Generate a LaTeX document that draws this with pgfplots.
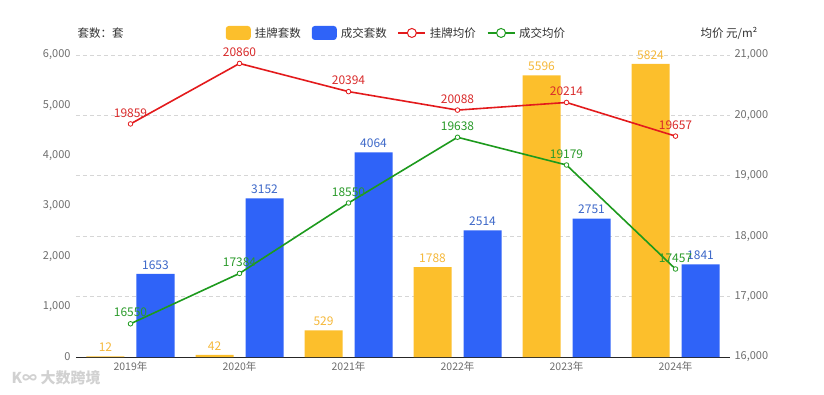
\documentclass[border=0pt]{standalone}
\usepackage{pgfplots}
\pgfplotsset{compat=1.18}
\usepackage{fontspec}
\setmainfont{Noto Sans CJK SC}
\definecolor{cy}{HTML}{FCBF2C}
\definecolor{cb}{HTML}{2F63F8}
\definecolor{cr}{HTML}{E31A1C}
\definecolor{cg}{HTML}{1D9A1D}
\definecolor{lb}{HTML}{3C67C8}
\definecolor{ly}{HTML}{F5B83A}
\definecolor{lr}{HTML}{D92B2B}
\definecolor{lg}{HTML}{2A9A2A}
\definecolor{tk}{HTML}{6E6E6E}
\definecolor{gr}{HTML}{D6D6D6}
\newcommand\fs[1]{\fontsize{#1}{#1}\selectfont}
\begin{document}
\begin{tikzpicture}
\path[use as bounding box] (-76pt,-37pt) rectangle (748pt,357pt);
\begin{axis}[
  width=654pt, height=302pt, scale only axis, clip=false,
  xmin=-0.5, xmax=5.5, ymin=0, ymax=6000,
  axis x line=bottom, axis y line=left,
  x axis line style={-, black!85, line width=0.8pt},
  y axis line style={draw=none},
  major tick length=0pt,
  xtick={0,...,5},
  xticklabels={2019年,2020年,2021年,2022年,2023年,2024年},
  xticklabel style={tk, font=\fs{10.5}, yshift=-1pt},
  ytick={0,1000,...,6000},
  scaled y ticks=false,
  yticklabel style={tk, font=\fs{11}, xshift=-2pt},
  /pgf/number format/assume math mode=true,
  /pgf/number format/1000 sep={,},
  extra y ticks={1200,2400,3600,4800,6000},
  extra y tick labels={},
  extra y tick style={grid=major, major grid style={gr, line width=0.7pt, dash pattern=on 4pt off 3pt}},
  ybar, bar width=38pt,
  nodes near coords,
  nodes near coords style={font=\fs{12}, /pgf/number format/assume math mode=true, /pgf/number format/1000 sep={}},
]
\addplot[fill=cy, draw=none, bar shift=-25pt, every node near coord/.append style={ly, yshift=1pt}]
  coordinates {(0,12) (1,42) (2,529) (3,1788) (4,5596) (5,5824)};
\addplot[fill=cb, draw=none, bar shift=25pt, every node near coord/.append style={lb, yshift=1pt}]
  coordinates {(0,1653) (1,3152) (2,4064) (3,2514) (4,2751) (5,1841)};
\end{axis}
\begin{axis}[
  width=654pt, height=302pt, scale only axis, clip=false,
  xmin=-0.5, xmax=5.5, ymin=16000, ymax=21000,
  axis x line=none, axis y line*=right,
  y axis line style={draw=none},
  major tick length=0pt,
  ytick={16000,17000,...,21000},
  scaled y ticks=false,
  yticklabel style={tk, font=\fs{11}, xshift=1pt},
  /pgf/number format/assume math mode=true,
  /pgf/number format/1000 sep={,},
  legend columns=4,
  legend style={at={(0.49,1.073)}, anchor=center, draw=none, fill=none,
    font=\fs{11.5}, text=black!80, inner sep=0pt,
    /tikz/every odd column/.append style={column sep=2pt},
    /tikz/every even column/.append style={column sep=9pt}},
  nodes near coords,
  nodes near coords style={font=\fs{12}, /pgf/number format/assume math mode=true, /pgf/number format/1000 sep={}},
]
\addlegendimage{fill=cy, draw=none, legend image code/.code={\fill[rounded corners=3pt] (0pt,-7pt) rectangle (25pt,7pt);}}
\addlegendentry{挂牌套数}
\addlegendimage{fill=cb, draw=none, legend image code/.code={\fill[rounded corners=3pt] (0pt,-7pt) rectangle (25pt,7pt);}}
\addlegendentry{成交套数}
\addplot[cr, line width=1.6pt, mark=*, mark size=2.3pt, mark options={fill=white, line width=0.8pt},
  every node near coord/.append style={lr, yshift=3pt},
  legend image code/.code={\draw[line width=1.2pt] (0pt,0pt) -- (27pt,0pt); \draw[line width=1pt, fill=white] (13.5pt,0pt) circle (4.5pt);}]
  coordinates {(0,19859) (1,20860) (2,20394) (3,20088) (4,20214) (5,19657)};
\addlegendentry{挂牌均价}
\addplot[cg, line width=1.6pt, mark=*, mark size=2.3pt, mark options={fill=white, line width=0.8pt},
  every node near coord/.append style={lg, yshift=3pt},
  legend image code/.code={\draw[line width=1.2pt] (0pt,0pt) -- (27pt,0pt); \draw[line width=1pt, fill=white] (13.5pt,0pt) circle (4.5pt);}]
  coordinates {(0,16550) (1,17384) (2,18550) (3,19638) (4,19179) (5,17457)};
\addlegendentry{成交均价}
\end{axis}
\node[anchor=west, font=\fs{11.5}, text=black!80] at (-2pt,324pt) {套数：套};
\node[anchor=east, font=\fs{11.5}, text=black!80] at (685pt,324pt) {均价 元/m²};
\node[anchor=west, font=\fs{15}\bfseries, text=black!18] at (-68pt,-21pt) {K∞ 大数跨境};
\end{tikzpicture}
\end{document}
